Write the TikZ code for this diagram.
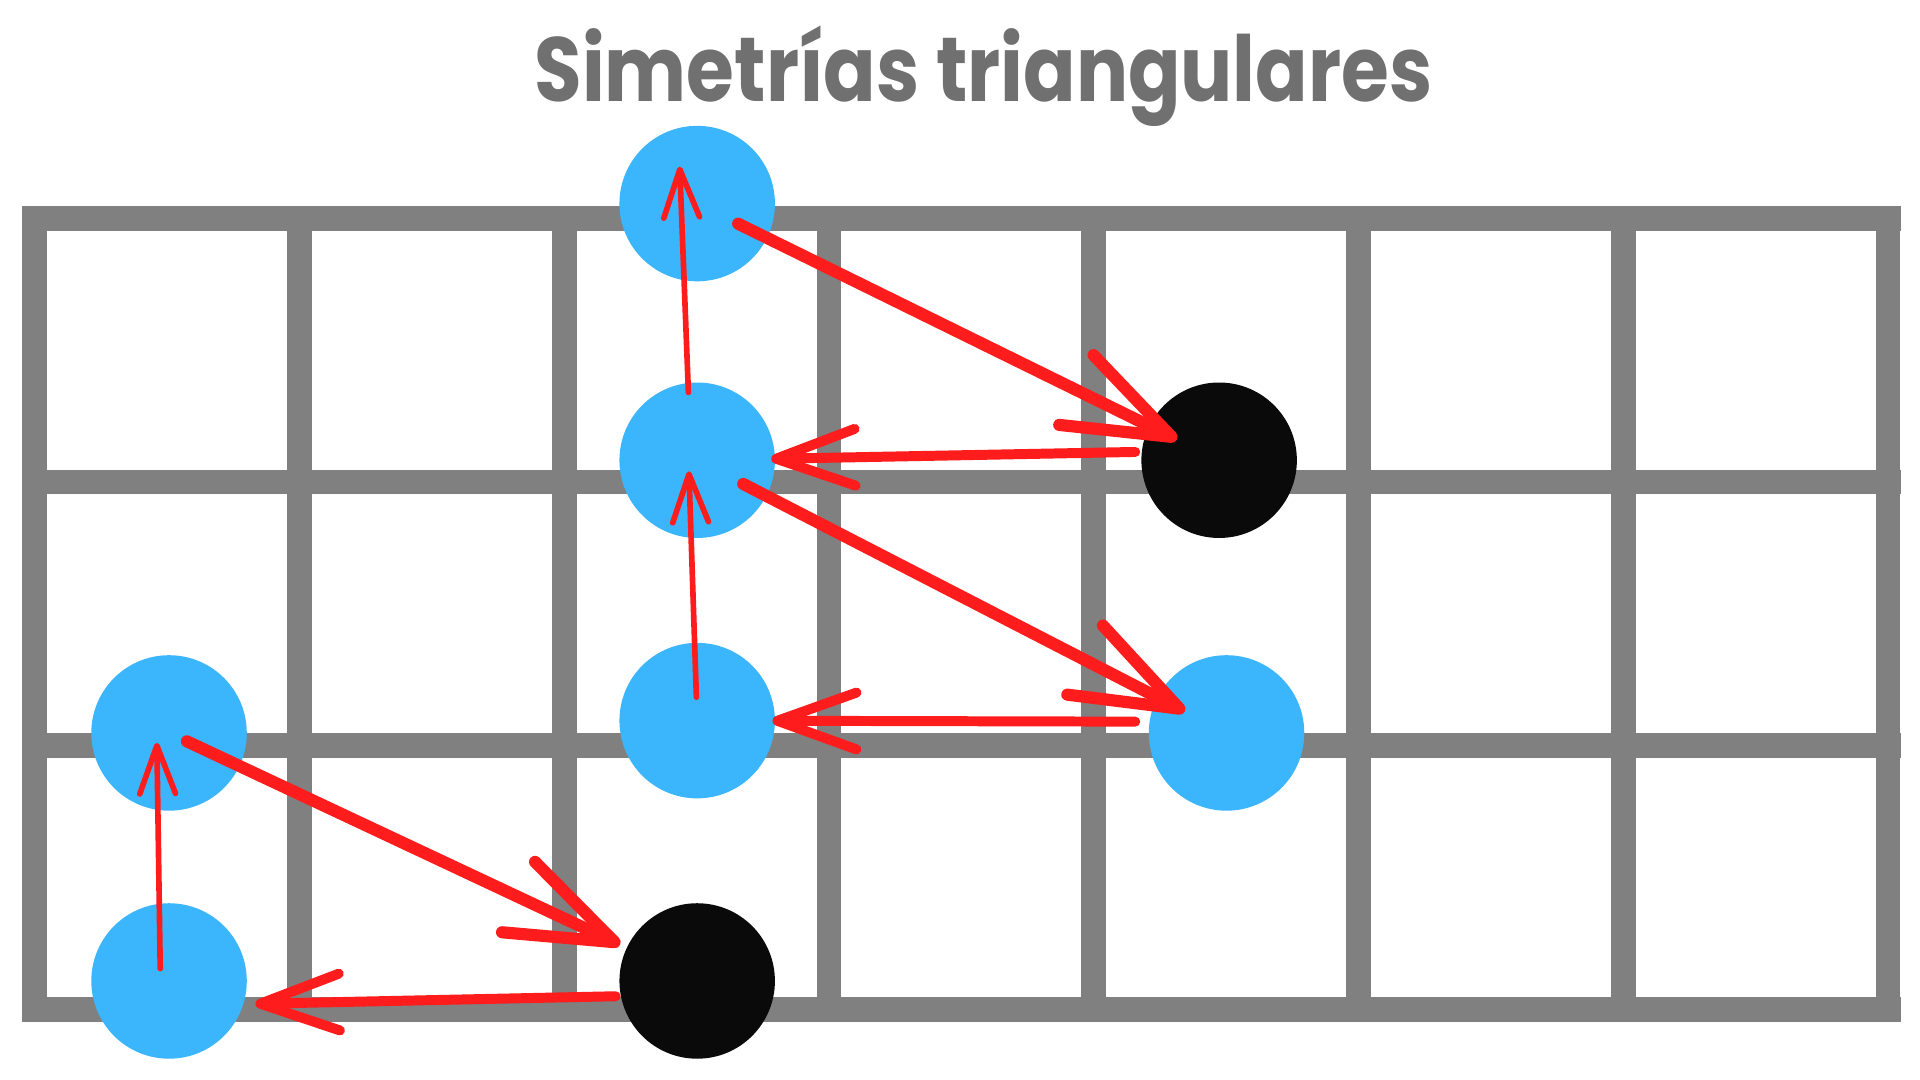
\documentclass[tikz,border=0pt]{standalone}
\usepackage{fontspec}
\usepackage{tikz}
\usetikzlibrary{arrows.meta}
\newfontfamily\titlefont[FakeStretch=0.85]{Poppins}
\definecolor{dotblue}{HTML}{3BB5FC}
\definecolor{dotblack}{HTML}{0A0A0A}
\definecolor{fretgray}{HTML}{808080}
\definecolor{arrowred}{HTML}{FF1C1C}
\definecolor{titlegray}{HTML}{707070}

\begin{document}
\begin{tikzpicture}[
    dot/.style={circle, minimum size=1.26cm, inner sep=0pt},
    blue dot/.style={dot, fill=dotblue},
    black dot/.style={dot, fill=dotblack},
    slide/.style={arrowred, line width=2.8pt, line cap=round, -{Straight Barb[length=8.6mm,width=6.3mm,round]}},
    cross/.style={arrowred, line width=2.3pt, line cap=round, -{Straight Barb[length=6.4mm,width=4.6mm,round]}},
    climb/.style={arrowred, line width=1.3pt, line cap=round, -{Straight Barb[length=3.9mm,width=2.9mm,round]}}
]
    \useasboundingbox[fill=white] (0,0) rectangle (15.56,8.75);
    \node[anchor=base, inner sep=0pt, titlegray, font=\titlefont\bfseries\fontsize{21}{25}\selectfont] (title) at (7.97,7.93) {Simetrías triangulares};

    % fretboard
    \begin{scope}[shift={(0.28,0.57)}, xscale=2.146, yscale=2.137]
        \draw[fretgray, line width=5.7pt, line cap=rect] (0,0) grid (7,3);
    \end{scope}

    % dots
    \node[blue dot] (top) at (5.65,7.10) {};
    \node[blue dot] (mid) at (5.65,5.02) {};
    \node[black dot] (rootA) at (9.88,5.02) {};
    \node[blue dot] (low) at (5.65,2.91) {};
    \node[blue dot] (right) at (9.94,2.81) {};
    \node[blue dot] (left) at (1.37,2.81) {};
    \node[blue dot] (botleft) at (1.37,0.80) {};
    \node[black dot] (rootB) at (5.65,0.80) {};

    % moves
    \draw[climb, shorten <=1.9mm, shorten >=0.9mm] (low.center) -- ([xshift=-0.7mm]mid.center);
    \draw[climb, shorten <=5.5mm, shorten >=-3mm] ([xshift=-0.5mm]mid.center) -- ([xshift=-1.3mm]top.center);
    \draw[slide, shorten <=3.7mm, shorten >=3.8mm] (top.center) -- (rootA.center);
    \draw[cross, shorten <=6.8mm, shorten >=6mm] ([yshift=0.8mm]rootA.center) -- (mid.center);
    \draw[slide, shorten <=4.2mm, shorten >=3.8mm] (mid.center) -- (right.center);
    \draw[cross, shorten <=7.4mm, shorten >=6.1mm] ([yshift=0.9mm]right.center) -- (low.center);
    \draw[climb, shorten <=1mm, shorten >=0.8mm] ([xshift=-0.7mm]botleft.center) -- ([xshift=-1mm]left.center);
    \draw[slide, shorten <=1.6mm, shorten >=6.9mm] (left.center) -- (rootB.center);
    \draw[cross, shorten <=6.6mm, shorten >=7mm] ([yshift=-1.1mm]rootB.center) -- ([yshift=-2mm]botleft.center);
\end{tikzpicture}
\end{document}
